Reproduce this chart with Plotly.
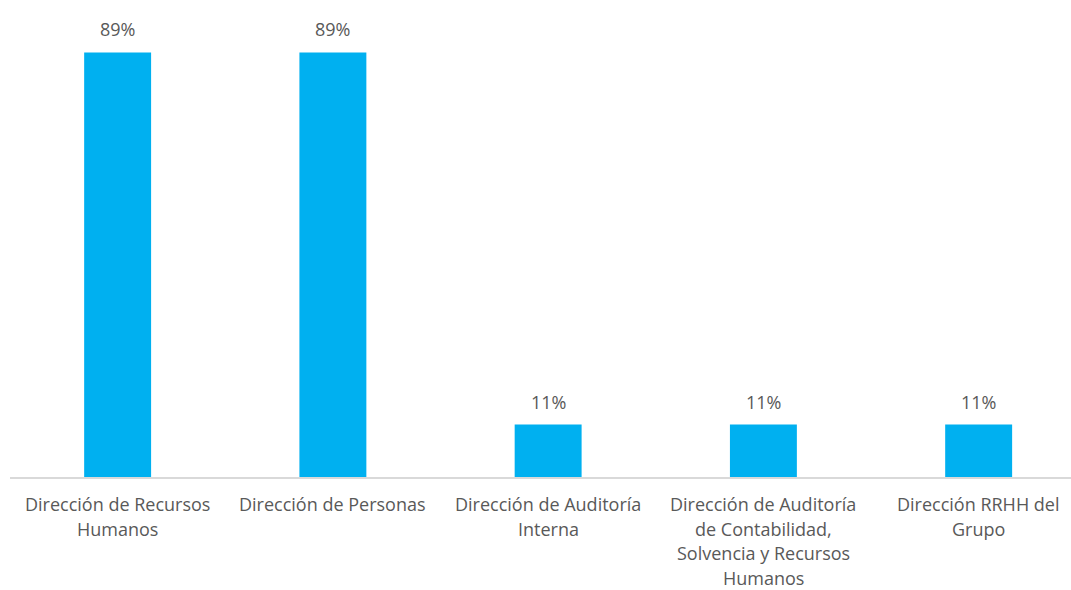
import plotly.graph_objects as go

categories = [
    "Dirección de Recursos<br>Humanos",
    "Dirección de Personas",
    "Dirección de Auditoría<br>Interna",
    "Dirección de Auditoría<br>de Contabilidad,<br>Solvencia y Recursos<br>Humanos",
    "Dirección RRHH del<br>Grupo",
]
values = [89, 89, 11, 11, 11]
labels = [f"{v}%" for v in values]

FONT = "Open Sans"
TXT = "#595959"
SIZE = 18

xs = list(range(len(categories)))

fig = go.Figure(
    go.Bar(
        x=xs,
        y=values,
        width=0.311,
        marker=dict(color="#00B0F0", line=dict(width=0)),
        hoverinfo="skip",
    )
)

annotations = []
# value labels above bars
for x, v, lab in zip(xs, values, labels):
    annotations.append(dict(
        x=x, y=v, xref="x", yref="y", text=lab, showarrow=False,
        yshift=23, yanchor="middle", xanchor="center",
        font=dict(family=FONT, size=SIZE, color=TXT),
    ))
# category labels below axis, one annotation per line for Excel-like line spacing
for x, cat in zip(xs, categories):
    for k, line in enumerate(cat.split("<br>")):
        annotations.append(dict(
            x=x, y=0, xref="x", yref="y", text=line, showarrow=False,
            yshift=-(27 + 24.6 * k), yanchor="middle", xanchor="center",
            borderpad=0,
            font=dict(family=FONT, size=SIZE, color=TXT),
        ))

fig.update_layout(
    width=1071,
    height=590,
    margin=dict(l=10, r=0, t=0, b=113),
    paper_bgcolor="white",
    plot_bgcolor="white",
    showlegend=False,
    font=dict(family=FONT, size=SIZE, color=TXT),
    annotations=annotations,
    xaxis=dict(
        range=[-0.5, 4.429],
        tickvals=xs,
        showticklabels=False,
        showline=True,
        linecolor="#D9D9D9",
        linewidth=2,
        showgrid=False,
        zeroline=False,
        ticks="",
    ),
    yaxis=dict(
        range=[0, 100],
        visible=False,
        showgrid=False,
        zeroline=False,
    ),
)

fig.write_html("out.html")
